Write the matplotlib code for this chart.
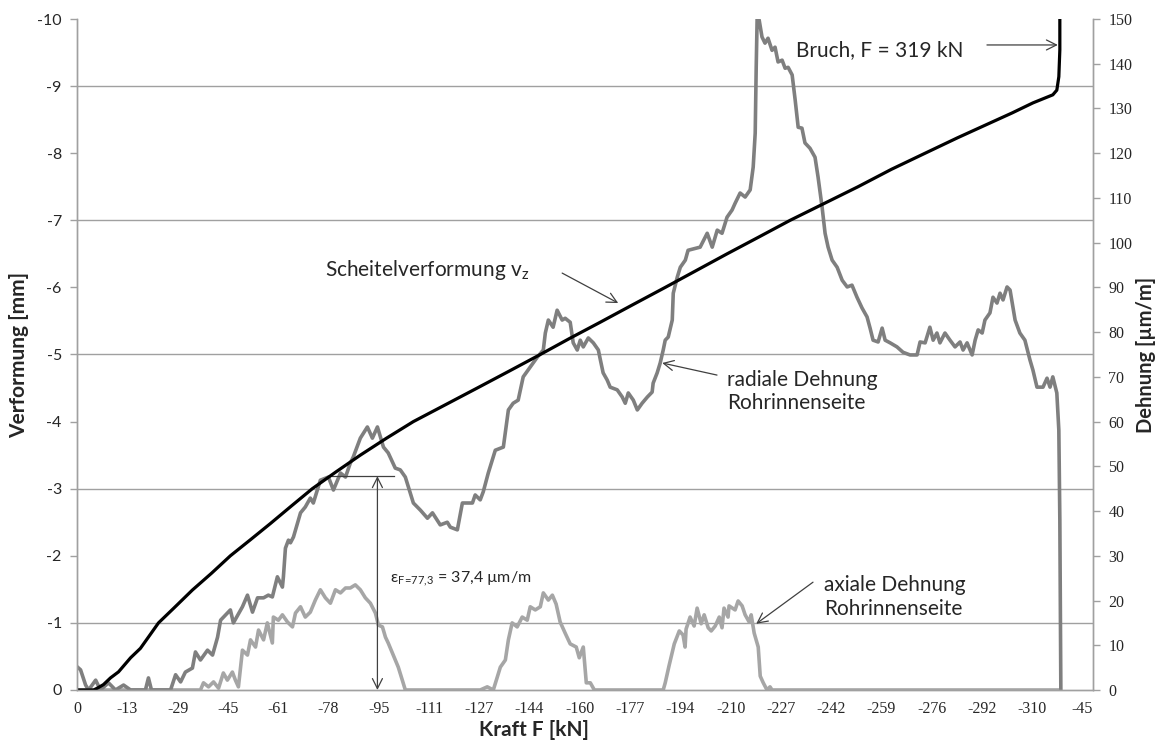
import matplotlib
matplotlib.use("Agg")
import matplotlib.pyplot as plt
import numpy as np

# Kraft-Achse: Messpunkt-Index, Beschriftung alle 20 Punkte
kraft_labels = ['0', '-13', '-29', '-45', '-61', '-78', '-95', '-111', '-127', '-144',
                '-160', '-177', '-194', '-210', '-227', '-242', '-259', '-276', '-292', '-310', '-45']
n_punkte = 404.2

# Scheitelverformung v_z [mm] (linke Achse)
vz_x = [0, 6.6, 8.2, 10.5, 13.3, 16.5, 21.3, 25.2, 29.0, 32.4, 38.5, 45.9, 53.5, 61.0, 69.0,
        76.9, 85.2, 93.6, 103.0, 112.7, 123.0, 133.8, 146.5, 159.2, 171.8, 184.3, 196.0,
        208.1, 221.0, 234.0, 246.3, 258.6, 271.2, 283.7, 297.2, 310.7, 324.0, 337.4, 350.3,
        363.2, 372.0, 380.3, 388.2, 389.8, 390.6, 391.0, 391.0]
vz_y = [0, 0, -0.03, -0.08, -0.18, -0.27, -0.48, -0.62, -0.82, -1.0, -1.22, -1.49, -1.74,
        -2.0, -2.24, -2.48, -2.74, -3.0, -3.25, -3.5, -3.75, -4.0, -4.25, -4.5, -4.75, -5.0,
        -5.24, -5.48, -5.74, -6.0, -6.25, -6.5, -6.75, -7.0, -7.25, -7.5, -7.76, -8.0, -8.23,
        -8.45, -8.6, -8.75, -8.87, -8.94, -9.14, -9.54, -10.2]

# radiale Dehnung Rohrinnenseite [µm/m] (rechte Achse)
rad_x = [0.2, 1.4, 3.4, 4.6, 7.4, 9.3, 12.5, 15.3, 18.5, 21.3, 27.2, 28.4, 29.6, 37.2, 39.2,
         41.2, 43.1, 45.9, 47.1, 49.1, 51.9, 53.9, 55.9, 57.1, 59.8, 61.0, 62.2, 65.8, 67.8,
         69.8, 71.8, 74.2, 76.1, 77.7, 79.7, 81.7, 82.1, 82.9, 84.1, 84.9, 86.1, 88.9, 90.8,
         92.8, 94.0, 96.8, 100.0, 102.0, 104.8, 106.8, 108.7, 109.9, 112.7, 115.5, 117.5,
         119.5, 121.9, 123.8, 126.6, 128.6, 130.6, 133.8, 136.6, 139.4, 141.4, 144.5, 147.3,
         148.5, 151.3, 153.3, 157.3, 158.4, 160.4, 161.6, 163.6, 166.4, 169.6, 171.6, 173.5,
         175.5, 177.5, 180.3, 183.1, 185.5, 186.3, 187.5, 189.4, 191.0, 193.0, 194.2, 196.2,
         197.4, 199.0, 200.2, 201.4, 203.4, 205.4, 207.4, 208.2, 209.3, 210.9, 212.1, 214.9,
         216.9, 218.1, 219.3, 221.3, 222.9, 224.8, 226.9, 228.8, 229.2, 230.8, 232.0, 233.2,
         234.0, 235.2, 236.8, 237.2, 238.8, 240.0, 242.0, 243.1, 247.9, 250.7, 252.7, 254.7,
         256.6, 258.6, 260.6, 261.8, 263.8, 265.8, 267.8, 269.0, 269.8, 270.2, 270.6, 271.4,
         272.5, 273.7, 274.9, 276.5, 277.7, 278.9, 280.5, 281.7, 282.9, 284.5, 285.7, 286.9,
         288.4, 289.6, 291.6, 293.6, 294.8, 296.4, 297.6, 298.8, 300.4, 302.4, 304.4, 306.4,
         308.3, 310.3, 312.3, 314.3, 315.5, 316.7, 318.7, 320.3, 321.5, 323.5, 326.2, 328.6,
         331.4, 334.2, 335.4, 337.4, 339.3, 340.6, 342.1, 343.3, 345.3, 347.3, 349.3, 351.3,
         352.5, 354.1, 356.1, 357.3, 358.5, 360.1, 361.2, 363.2, 364.4, 366.0, 367.2, 368.4,
         370.0, 371.2, 373.2, 375.1, 377.1, 379.1, 380.3, 381.9, 384.3, 385.9, 387.1, 388.2,
         389.8, 390.6, 391.0, 391.4]
rad_y = [5.1, 4.5, 1.1, 0, 2.2, 0, 1.6, 0, 1.1, 0, 0, 2.7, 0, 0, 3.4,
         1.8, 4.0, 4.9, 8.5, 6.7, 8.9, 7.8, 11.8, 15.6, 17.2, 17.9, 15.0, 18.6, 21.2,
         17.4, 20.6, 20.6, 21.2, 20.8, 25.3, 23.0, 25.3, 31.7, 33.5, 32.9, 34.2, 39.6, 40.9,
         42.9, 41.8, 46.9, 47.6, 44.7, 48.5, 47.6, 50.7, 52.1, 56.3, 58.8, 56.3,
         58.8, 54.3, 53.0, 49.6, 49.2, 47.6, 41.8, 40.2, 38.4, 39.6, 36.9, 37.5,
         36.4, 35.8, 41.8, 41.8, 43.6, 42.5, 44.3, 48.5, 53.6, 54.3, 62.6, 64.1,
         64.8, 70.0, 72.2, 74.4, 76.0, 79.8, 82.7, 81.1, 84.9, 82.7, 83.1, 82.2,
         77.6, 76.0, 78.2, 76.7, 78.7, 77.6, 76.0, 73.8, 70.9, 69.3, 67.7, 67.1,
         65.5, 64.1, 66.4, 64.8, 62.6, 64.1, 65.5, 66.6, 68.6, 70.9, 73.1, 76.0,
         78.2, 78.9, 82.7, 88.7, 92.3, 94.5, 96.1, 98.3, 99.0, 102.1, 99.0, 102.8,
         102.1, 105.7, 107.3, 108.8, 111.1, 110.2, 111.8, 116.9, 124.5, 139.2, 151.0, 149.7,
         146.0, 144.6, 145.7, 143.0, 143.7, 140.4, 140.8, 139.0, 139.2, 137.5, 131.9, 125.8,
         125.6, 122.3, 121.1, 119.1, 114.7, 108.0, 102.1, 99.0, 96.1, 94.5, 91.6, 90.1,
         90.5, 87.8, 85.4, 83.4, 80.9, 78.2, 77.8, 80.9, 78.2, 77.6, 76.7, 75.5,
         74.9, 74.9, 77.8, 77.6, 81.1, 78.2, 79.8, 77.6, 79.8, 78.2, 76.7, 77.8,
         76.0, 77.6, 74.9, 78.2, 80.5, 79.8, 82.7, 84.3, 87.8, 86.5, 88.7, 87.2,
         90.1, 89.4, 82.7, 79.8, 78.2, 73.8, 71.5, 67.7, 67.7, 69.7, 67.7, 70.0,
         66.4, 58.1, 38.0, 0]

# axiale Dehnung Rohrinnenseite [µm/m] (rechte Achse)
ax_x = [0, 47.1, 49.1, 50.3, 52.3, 54.3, 56.3, 58.2, 59.8, 61.8, 63.0, 64.2, 65.8, 67.8, 69.0,
        71.0, 72.2, 74.2, 75.7, 77.7, 78.1, 80.1, 81.7, 83.7, 85.7, 86.9, 88.9, 90.8, 92.8,
        94.8, 96.8, 98.8, 100.8, 102.8, 104.8, 106.8, 108.7, 110.7, 112.7, 114.7, 116.7,
        118.7, 119.9, 121.5, 122.7, 123.8, 125.8, 127.8, 129.4, 130.6, 160.4, 163.2, 165.6,
        167.2, 168.4, 170.4, 171.6, 173.1, 175.1, 177.1, 179.1, 180.3, 182.3, 184.3, 185.5,
        187.5, 189.1, 190.6, 192.2, 194.2, 196.2, 198.6, 199.8, 201.4, 202.6, 204.2, 205.8,
        233.2, 234.0, 235.6, 237.6, 239.6, 241.1, 241.9, 242.3, 243.9, 245.5, 246.7, 248.3,
        249.5, 251.1, 252.3, 253.9, 255.5, 256.6, 257.4, 259.0, 259.4, 261.8, 263.0, 264.6,
        265.8, 267.4, 268.2, 269.4, 271.0, 271.8, 273.0, 274.5, 275.7, 276.5, 391.0]
ax_y = [0, 0, 0, 1.6, 0.7, 1.8, 0.4, 3.8, 2.2, 4.0, 2.2, 0.7, 8.9, 7.8, 11.2,
        9.6, 13.4, 11.2, 15.0, 10.5, 16.3, 15.6, 16.8, 15.2, 14.1, 17.2, 18.6, 16.3, 17.4,
        20.1, 22.4, 20.6, 19.4, 22.4, 21.7, 22.8, 22.8, 23.5, 22.4, 20.6, 19.4,
        17.2, 14.5, 14.1, 11.8, 10.5, 7.8, 5.1, 2.2, 0, 0, 0.7, 0,
        2.9, 5.1, 6.7, 11.2, 15.0, 14.1, 16.3, 15.6, 18.6, 17.9, 18.6, 21.7,
        20.1, 21.2, 19.2, 15.2, 12.7, 10.3, 9.6, 7.2, 9.6, 1.6, 1.6, 0,
        0, 1.6, 5.6, 10.3, 13.2, 12.3, 9.6, 13.6, 16.3, 14.3, 18.3, 14.8,
        16.8, 13.9, 13.2, 14.3, 16.3, 13.9, 18.3, 16.3, 18.8, 17.9, 19.9, 18.8,
        16.8, 15.2, 16.8, 12.7, 9.6, 3.1, 1.6, 0, 0.7, 0, 0]

# Messmarke
eps_x = 119.5
eps_wert = 47.8
eps_strich = [100.4, 125.9]

plt.rcParams['font.family'] = ['Lato', 'DejaVu Sans']

fig = plt.figure(figsize=(11.57, 7.40), dpi=100)
ax = fig.add_subplot(111)
ax2 = ax.twinx()
fig.subplots_adjust(left=0.0666, right=0.9447, top=0.9743, bottom=0.0676)

grid_col = '#a0a0a0'
text_col = '#262626'

# Dehnungen (rechte Achse)
ax2.plot(ax_x, ax_y, color='#a6a6a6', lw=2.6, solid_joinstyle='round')
ax2.plot(rad_x, rad_y, color='#7f7f7f', lw=2.6, solid_joinstyle='round')
ax2.set_ylim(0, 150)
ax2.set_yticks(np.arange(0, 151, 10))
ax2.set_yticks(np.arange(0, 151, 15), minor=True)
ax2.grid(True, which='minor', axis='y', color=grid_col, lw=1)
ax2.tick_params(axis='y', which='minor', length=0)
ax2.tick_params(axis='y', which='major', length=5, width=1, color=grid_col,
                labelsize=11.5, labelcolor=text_col, pad=6)
for lab in ax2.get_yticklabels():
    lab.set_family('Liberation Serif')
ax2.set_ylabel('Dehnung [µm/m]', fontsize=14.5, fontweight='bold', color=text_col, labelpad=3)

# Scheitelverformung (linke Achse, oben)
ax.set_zorder(ax2.get_zorder() + 1)
ax.patch.set_visible(False)
ax.plot(vz_x, vz_y, color='black', lw=2.3, solid_joinstyle='round')
ax.set_ylim(0, -10)
ax.set_yticks(np.arange(0, -11, -1))
ax.set_yticklabels([str(v) for v in range(0, -11, -1)])
ax.tick_params(axis='y', length=5, width=1, color=grid_col, labelsize=11.5,
               labelcolor=text_col, pad=6)
ax.set_ylabel('Verformung [mm]', fontsize=15, fontweight='bold', color=text_col, labelpad=6)

ax.set_xlim(0, n_punkte)
ax.set_xticks(np.arange(0, 401, 20))
ax.set_xticklabels(kraft_labels, family='Liberation Serif')
ax.tick_params(axis='x', length=0, labelsize=11.5, labelcolor=text_col, pad=8)
ax.set_xlabel('Kraft F [kN]', fontsize=15, fontweight='bold', color=text_col, labelpad=0)
ax.xaxis.set_label_coords(0.45, -0.045)

for a in (ax, ax2):
    a.spines['top'].set_visible(False)
    for s in ('left', 'right', 'bottom'):
        a.spines[s].set_color(grid_col)
        a.spines[s].set_linewidth(1)

arr = dict(arrowstyle='->', color='#404040', lw=0.9, shrinkA=0, shrinkB=0,
           mutation_scale=18)

# Beschriftungen
ax2.text(319.5, 143.0, 'Bruch, F = 319 kN', fontsize=15, color=text_col, ha='center', va='center')
ax2.annotate('', xy=(390.2, 144.2), xytext=(362.0, 144.2), arrowprops=arr)

ax2.text(98.8, 93.9, 'Scheitelverformung v$_\\mathregular{z}$', fontsize=15, color=text_col,
         ha='left', va='center')
ax2.annotate('', xy=(215.3, 86.5), xytext=(193.0, 93.2), arrowprops=arr)

ax2.text(258.6, 66.8, 'radiale Dehnung\nRohrinnenseite', fontsize=15, color=text_col,
         ha='left', va='center', linespacing=1.2)
ax2.annotate('', xy=(232.8, 73.1), xytext=(254.6, 70.4), arrowprops=arr)

ax2.text(297.2, 20.8, 'axiale Dehnung\nRohrinnenseite', fontsize=15, color=text_col,
         ha='left', va='center', linespacing=1.2)
ax2.annotate('', xy=(270.2, 14.8), xytext=(292.8, 24.1), arrowprops=arr)

ax2.text(124.6, 25.0, 'ε$_\\mathregular{F\\!=\\!77{,}3}$ = 37,4 µm/m', fontsize=11.5,
         color=text_col, ha='left', va='center')
ax2.annotate('', xy=(eps_x, eps_wert), xytext=(eps_x, 0),
             arrowprops=dict(arrowstyle='<->', color='#404040', lw=0.9, shrinkA=0,
                             shrinkB=0, mutation_scale=18))
ax2.plot(eps_strich, [eps_wert, eps_wert], color='#404040', lw=0.9)

fig.savefig('out.png', dpi=100)
